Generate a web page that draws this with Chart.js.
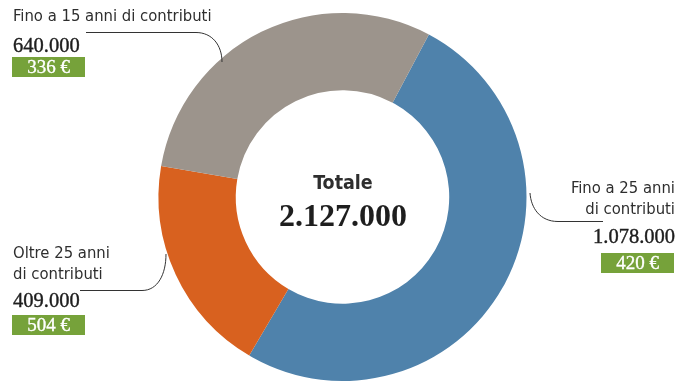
<!DOCTYPE html>
<html>
<head>
<meta charset="utf-8">
<script src="https://cdn.jsdelivr.net/npm/chart.js@4.4.1/dist/chart.umd.min.js"></script>
<style>
  body { margin: 0; background: #fff; }
  #wrap { position: relative; width: 682px; height: 388px; }
  .lab { position: absolute; font-family: "Liberation Sans Narrow", "DejaVu Sans Condensed", sans-serif; font-stretch: condensed; font-size: 16.5px; line-height: 21px; color: #2e2e2e; white-space: nowrap; }
  .num { position: absolute; font-family: "Liberation Serif", serif; font-size: 20.5px; line-height: 20px; color: #1e1e1e; white-space: nowrap; -webkit-text-stroke: 0.4px #1e1e1e; }
  .box { position: absolute; width: 73px; height: 20px; background: #76a23a; color: #fff; font-family: "Liberation Serif", serif; font-size: 19px; line-height: 20px; text-align: center; -webkit-text-stroke: 0.35px #fff; }
  #tot1 { position: absolute; left: 0; width: 686px; top: 171px; text-align: center; font-family: "Liberation Sans Narrow", "DejaVu Sans Condensed", sans-serif; font-stretch: condensed; font-weight: bold; font-size: 19.5px; color: #2e2e2e; }
  #tot2 { position: absolute; left: 0; width: 686px; top: 197px; text-align: center; font-family: "Liberation Serif", serif; font-weight: bold; font-size: 32px; color: #1e1e1e; }
</style>
</head>
<body>
<div id="wrap">
  <canvas id="doughnut-chart" width="682" height="388"></canvas>

  <div class="lab" id="l0" style="right:7px; top:177px; text-align:right"></div>
  <div class="num" id="n0" style="right:7px; top:226px"></div>
  <div class="box" id="b0" style="left:601px; top:253px"></div>

  <div class="lab" id="l1" style="left:13px; top:242px"></div>
  <div class="num" id="n1" style="left:13px; top:290px"></div>
  <div class="box" id="b1" style="left:12px; top:315px"></div>

  <div class="lab" id="l2" style="left:13px; top:5px"></div>
  <div class="num" id="n2" style="left:13px; top:35px"></div>
  <div class="box" id="b2" style="left:12px; top:57px"></div>

  <div id="tot1">Totale</div>
  <div id="tot2"></div>
</div>
<script>
const categories = ['Fino a 25 anni<br>di contributi', 'Oltre 25 anni<br>di contributi', 'Fino a 15 anni di contributi']
const pensioners = [1078000, 409000, 640000]
const avgPension = [420, 504, 336]
const colors = ['#4f82ab', '#d8611f', '#9c948c']

const fmt = (n) => n.toString().replace(/\B(?=(\d{3})+(?!\d))/g, '.')

categories.forEach((c, i) => {
  document.getElementById('l' + i).innerHTML = c
  document.getElementById('n' + i).textContent = fmt(pensioners[i])
  document.getElementById('b' + i).textContent = avgPension[i] + ' €'
})
const total = pensioners.reduce((a, b) => a + b, 0)
document.getElementById('tot2').textContent = fmt(total)

// leader lines from labels to the ring
const leaders = {
  id: 'leaders',
  afterDraw(chart) {
    const ctx = chart.ctx
    ctx.save()
    ctx.strokeStyle = '#333'
    ctx.lineWidth = 1
    ctx.beginPath()
    // blue
    ctx.moveTo(603, 221.5)
    ctx.lineTo(558, 221.5)
    ctx.bezierCurveTo(540, 221.5, 531, 208, 530, 193)
    // orange
    ctx.moveTo(80, 290.5)
    ctx.lineTo(142, 290.5)
    ctx.bezierCurveTo(158, 290.5, 166, 274, 166, 254)
    // gray
    ctx.moveTo(86, 32.5)
    ctx.lineTo(196, 32.5)
    ctx.bezierCurveTo(212, 32.5, 222, 45, 222, 62)
    ctx.stroke()
    ctx.restore()
  }
}

const config = {
  type: 'doughnut',
  data: {
    labels: categories,
    datasets: [{
      data: pensioners,
      backgroundColor: colors,
      borderWidth: 0,
      hoverOffset: 0,
    }],
  },
  options: {
    responsive: false,
    animation: false,
    rotation: 28,
    cutout: '58%',
    layout: { padding: { top: 13, bottom: 7, left: 3 } },
    plugins: { legend: { display: false }, tooltip: { enabled: false } },
  },
  plugins: [leaders],
}

const doughnut_chart = document.getElementById('doughnut-chart')
const chart = new Chart(doughnut_chart, config)
</script>
</body>
</html>
